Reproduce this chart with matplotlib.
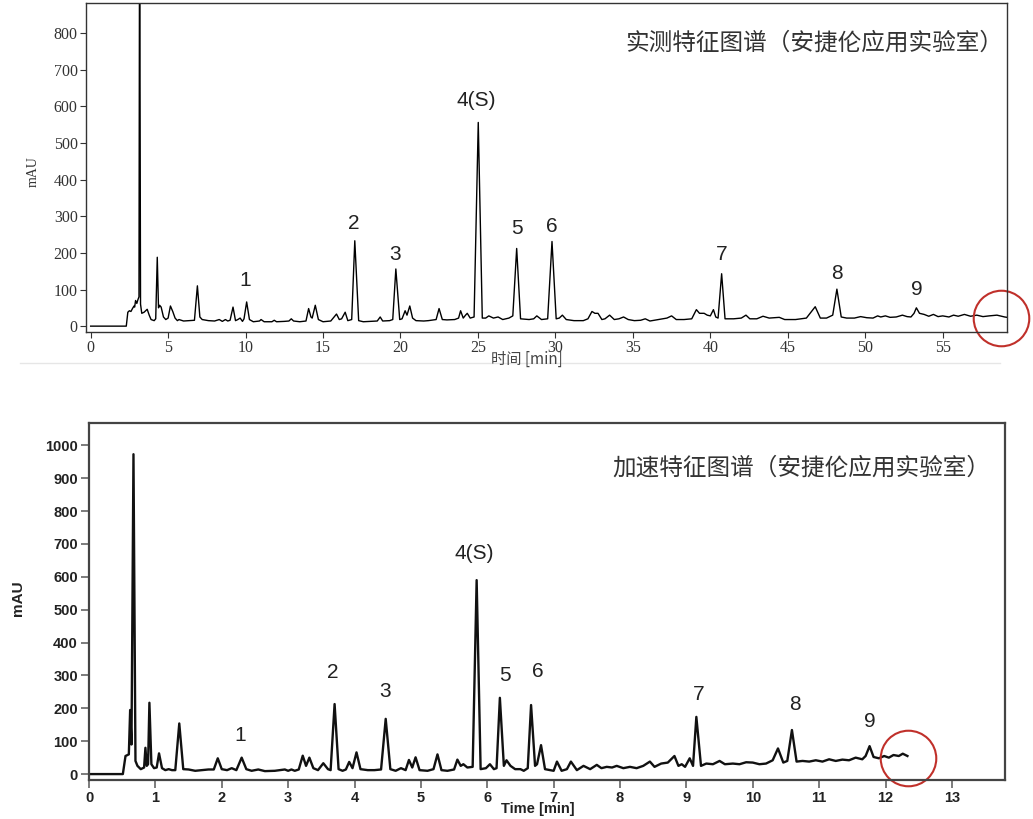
import matplotlib
matplotlib.use("Agg")
import matplotlib.pyplot as plt
from matplotlib.lines import Line2D

# measured trace (top) - time [min], signal [mAU]
top_time = [0.0, 2.30, 2.40, 2.50, 2.60, 2.70, 2.80, 2.84, 2.90, 2.98, 3.05, 3.12, 3.16, 3.22, 3.30,
            3.45, 3.55, 3.65, 3.78, 3.90, 4.10, 4.20, 4.30, 4.38, 4.45, 4.55, 4.70, 4.85, 5.00, 5.15,
            5.30, 5.45, 5.60, 5.70, 6.00, 6.40, 6.70, 6.89, 7.05, 7.20, 7.60, 8.00, 8.30, 8.50, 8.70,
            8.85, 9.00, 9.19, 9.35, 9.50, 9.65, 9.80, 9.90, 10.07, 10.25, 10.50, 10.90, 11.00, 11.20,
            11.70, 11.85, 12.00, 12.50, 12.80, 12.95, 13.10, 13.50, 13.90, 14.07, 14.22, 14.30, 14.50,
            14.70, 15.00, 15.50, 15.87, 16.05, 16.20, 16.43, 16.60, 16.85, 17.05, 17.30, 17.60, 18.00,
            18.50, 18.69, 18.85, 19.30, 19.50, 19.70, 19.95, 20.10, 20.30, 20.42, 20.60, 20.78, 21.00,
            21.50, 21.80, 22.30, 22.49, 22.70, 23.00, 23.50, 23.75, 23.88, 24.05, 24.20, 24.31, 24.50,
            24.75, 25.02, 25.28, 25.50, 25.70, 26.00, 26.30, 26.60, 27.00, 27.25, 27.50, 27.75, 28.30,
            28.60, 28.80, 29.10, 29.50, 29.78, 30.05, 30.25, 30.45, 30.70, 31.20, 31.80, 32.10, 32.36,
            32.55, 32.75, 33.00, 33.20, 33.50, 33.80, 34.10, 34.40, 34.70, 35.10, 35.50, 35.80, 36.10,
            36.50, 36.90, 37.20, 37.50, 37.80, 38.30, 38.80, 39.10, 39.30, 39.60, 39.80, 40.00, 40.20,
            40.35, 40.50, 40.73, 40.95, 41.50, 42.00, 42.30, 42.55, 43.00, 43.40, 43.80, 44.45, 44.80,
            45.50, 46.20, 46.77, 47.10, 47.50, 47.90, 48.17, 48.45, 48.80, 49.30, 49.70, 50.10, 50.50,
            50.80, 51.00, 51.30, 51.60, 52.00, 52.40, 52.70, 52.95, 53.15, 53.30, 53.50, 53.80, 54.10,
            54.40, 54.70, 55.00, 55.40, 55.70, 56.00, 56.40, 56.80, 57.20, 57.60, 58.00, 58.50, 59.00,
            59.15]
top_mau = [0, 0, 38, 42, 40, 48, 55, 52, 70, 62, 72, 80, 1200, 60, 35,
           38, 42, 46, 30, 18, 15, 20, 188, 50, 57, 52, 25, 18, 22, 55,
           40, 22, 15, 18, 14, 15, 16, 110, 25, 18, 15, 14, 18, 13, 18,
           14, 16, 52, 15, 18, 22, 13, 20, 66, 18, 12, 14, 18, 12,
           12, 16, 12, 13, 14, 20, 14, 12, 14, 48, 25, 22, 57,
           18, 12, 14, 33, 18, 20, 38, 15, 18, 233, 15, 12, 13,
           14, 25, 14, 15, 18, 156, 18, 20, 42, 30, 55, 22, 15,
           14, 15, 18, 48, 18, 17, 18, 22, 42, 22, 30, 35, 22,
           25, 556, 22, 22, 28, 22, 25, 18, 22, 28, 212, 20, 18,
           20, 28, 18, 20, 231, 20, 22, 30, 18, 15, 15, 20, 40,
           35, 35, 18, 20, 30, 18, 20, 25, 18, 15, 16, 20, 14,
           17, 20, 22, 28, 18, 18, 20, 45, 35, 35, 30, 28, 45,
           25, 22, 143, 20, 20, 22, 30, 20, 20, 27, 22, 24, 18,
           18, 22, 53, 22, 22, 30, 101, 25, 22, 22, 26, 23, 22,
           28, 25, 28, 24, 25, 30, 26, 25, 35, 50, 35, 32, 27,
           32, 26, 28, 25, 30, 27, 32, 27, 30, 26, 28, 30, 25,
           24]

# accelerated trace (bottom)
acc_time = [0.00, 0.51, 0.55, 0.60, 0.62, 0.64, 0.67, 0.70, 0.73, 0.78, 0.83, 0.85, 0.87, 0.89, 0.91,
            0.94, 0.98, 1.02, 1.055, 1.10, 1.15, 1.20, 1.25, 1.30, 1.36, 1.42, 1.50, 1.60, 1.70, 1.80,
            1.88, 1.94, 2.00, 2.08, 2.15, 2.22, 2.30, 2.37, 2.45, 2.55, 2.65, 2.80, 2.95, 3.00, 3.05,
            3.10, 3.16, 3.22, 3.27, 3.32, 3.38, 3.45, 3.53, 3.60, 3.64, 3.70, 3.76, 3.82, 3.87, 3.92,
            3.97, 4.03, 4.09, 4.20, 4.30, 4.40, 4.47, 4.54, 4.62, 4.70, 4.77, 4.82, 4.87, 4.92, 4.98,
            5.10, 5.19, 5.25, 5.31, 5.40, 5.50, 5.55, 5.60, 5.64, 5.70, 5.78, 5.84, 5.90, 5.98, 6.04,
            6.10, 6.14, 6.19, 6.25, 6.29, 6.35, 6.42, 6.50, 6.55, 6.61, 6.66, 6.72, 6.75, 6.81, 6.87,
            7.00, 7.05, 7.12, 7.20, 7.26, 7.35, 7.45, 7.55, 7.65, 7.72, 7.80, 7.88, 7.95, 8.05, 8.15,
            8.25, 8.35, 8.45, 8.52, 8.62, 8.72, 8.82, 8.88, 8.93, 8.98, 9.05, 9.10, 9.15, 9.22, 9.30,
            9.40, 9.50, 9.58, 9.70, 9.80, 9.90, 10.00, 10.10, 10.20, 10.30, 10.38, 10.46, 10.52, 10.59,
            10.66, 10.75, 10.85, 10.95, 11.05, 11.15, 11.25, 11.35, 11.45, 11.55, 11.65, 11.70, 11.76,
            11.82, 11.90, 11.98, 12.05, 12.12, 12.20, 12.26, 12.33]
acc_mau = [0, 0, 55, 60, 195, 90, 973, 40, 25, 15, 20, 80, 25, 30, 217,
           30, 18, 20, 63, 18, 12, 15, 12, 12, 154, 15, 14, 10, 12, 14,
           14, 48, 15, 12, 18, 12, 50, 15, 10, 14, 9, 10, 14, 10, 14,
           10, 14, 56, 25, 50, 18, 12, 33, 15, 12, 213, 15, 10, 14, 37,
           18, 66, 15, 12, 12, 14, 168, 15, 10, 18, 12, 43, 20, 51, 12,
           10, 15, 60, 12, 10, 14, 44, 25, 30, 20, 22, 590, 15, 18, 30,
           15, 18, 232, 25, 42, 25, 15, 15, 10, 18, 210, 25, 30, 88, 15,
           10, 38, 10, 15, 38, 12, 25, 15, 28, 18, 22, 20, 25, 18, 22,
           18, 25, 38, 22, 32, 35, 55, 25, 30, 22, 48, 25, 174, 25, 32,
           30, 40, 30, 32, 30, 36, 35, 30, 32, 42, 78, 35, 40, 134,
           38, 40, 38, 42, 38, 45, 40, 44, 42, 50, 45, 55, 85,
           52, 48, 55, 50, 58, 55, 62, 55]

# peak labels
peak_names = ["1", "2", "3", "4(S)", "5", "6", "7", "8", "9"]
top_label_x = [10.0, 17.0, 19.65, 24.9, 27.5, 29.8, 40.75, 48.2, 53.3]
top_label_y = [125, 280, 196, 616, 266, 272, 196, 143, 101]
acc_label_x = [2.28, 3.67, 4.46, 5.80, 6.26, 6.76, 9.19, 10.63, 11.76]
acc_label_y = [118, 308, 250, 671, 301, 311, 243, 212, 159]

# circled end of run
top_mark = (58.75, 22)
acc_mark = (12.34, 50)

top_title = "实测特征图谱（安捷伦应用实验室）"
acc_title = "加速特征图谱（安捷伦应用实验室）"

cjk = ["Noto Sans CJK SC", "DejaVu Sans"]

fig = plt.figure(figsize=(10.33, 8.19), dpi=100)
W, H = 1033, 819


def px_axes(left, top, right, bottom):
    return fig.add_axes([left / W, 1 - bottom / H, (right - left) / W, (bottom - top) / H])


# ---------- top panel ----------
ax1 = px_axes(86, 3, 1007, 332)
ax1.plot(top_time, top_mau, color="black", lw=1.0)
ax1.set_xlim(-0.3, 59.15)
ax1.set_ylim(-16, 882)
ax1.set_xticks(range(0, 60, 5))
ax1.set_yticks(range(0, 900, 100))
for s in ax1.spines.values():
    s.set_color("#333333")
    s.set_linewidth(1.0)
ax1.tick_params(direction="out", length=4, width=0.8, color="#333333", pad=2)
for lab in ax1.get_xticklabels() + ax1.get_yticklabels():
    lab.set_fontfamily("Liberation Serif")
    lab.set_fontsize(11.5)
    lab.set_color("#333333")
for name, x, y in zip(peak_names, top_label_x, top_label_y):
    ax1.text(x, y, name, ha="center", va="center", fontsize=15,
             family="Liberation Sans", color="#222222")
ax1.plot(*top_mark, marker="o", ms=40, mfc="none", mec="#c0302a", mew=1.5, clip_on=False)
fig.text(1003 / W, 1 - 43 / H, top_title, ha="right", va="center", fontsize=17,
         family=cjk, color="#333333")
fig.text(33 / W, 1 - 172 / H, "mAU", rotation=90, ha="center", va="center",
         fontsize=10, family="Liberation Serif", color="#333333")
fig.text(527 / W, 1 - 359 / H, "时间 [min]", ha="center", va="center",
         fontsize=11, family=cjk, color="#444444")
fig.add_artist(Line2D([20 / W, 1000 / W], [1 - 363 / H, 1 - 363 / H],
                      color="#e6e6e6", lw=1.0))

# ---------- bottom panel ----------
ax2 = px_axes(89, 423, 1005, 780)
ax2.plot(acc_time, acc_mau, color="#111111", lw=1.7)
ax2.set_xlim(0, 13.8)
ax2.set_ylim(-18, 1068)
ax2.set_xticks(range(0, 14))
ax2.set_yticks(range(0, 1100, 100))
for s in ax2.spines.values():
    s.set_color("#444444")
    s.set_linewidth(1.6)
ax2.tick_params(direction="out", length=6, width=1.2, color="#666666", pad=2)
for lab in ax2.get_xticklabels() + ax2.get_yticklabels():
    lab.set_fontfamily("Liberation Sans")
    lab.set_fontweight("bold")
    lab.set_fontsize(10.5)
    lab.set_color("#222222")
for name, x, y in zip(peak_names, acc_label_x, acc_label_y):
    ax2.text(x, y, name, ha="center", va="center", fontsize=15,
             family="Liberation Sans", color="#222222")
ax2.plot(*acc_mark, marker="o", ms=40, mfc="none", mec="#c0302a", mew=1.5, clip_on=False)
fig.text(990 / W, 1 - 468 / H, acc_title, ha="right", va="center", fontsize=17,
         family=cjk, color="#333333")
fig.text(18 / W, 1 - 598 / H, "mAU", rotation=90, ha="center", va="center",
         fontsize=11, family="Liberation Sans", fontweight="bold", color="#222222")
fig.text(538 / W, 1 - 809 / H, "Time [min]", ha="center", va="center",
         fontsize=10.5, family="Liberation Sans", fontweight="bold", color="#222222")

fig.savefig("out.png", dpi=100)
